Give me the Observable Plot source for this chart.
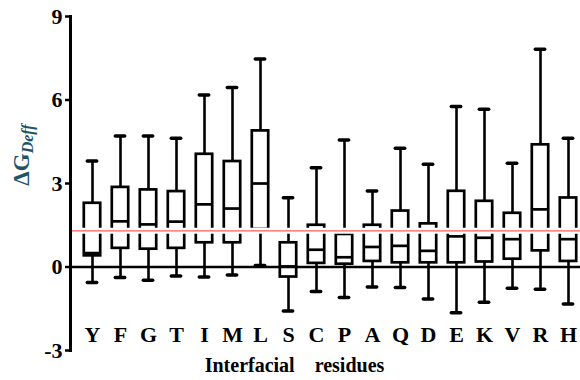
<!DOCTYPE html>
<html>
<head>
<meta charset="utf-8">
<script src="https://cdn.jsdelivr.net/npm/d3@7"></script>
<script src="https://cdn.jsdelivr.net/npm/@observablehq/plot@0.6"></script>
<style>
  html, body { margin: 0; padding: 0; background: white; overflow: hidden; }
</style>
</head>
<body>
<div id="chart"></div>
<script>
const residues    = ["Y","F","G","T","I","M","L","S","C","P","A","Q","D","E","K","V","R","H"];
const whiskerLow  = [-0.56,-0.38,-0.48,-0.32,-0.36,-0.29, 0.05,-1.58,-0.88,-1.10,-0.72,-0.74,-1.15,-1.64,-1.27,-0.76,-0.80,-1.33];
const quartile1   = [ 0.40, 0.67, 0.64, 0.67, 0.87, 0.87, 1.35,-0.36, 0.13, 0.10, 0.20, 0.15, 0.15, 0.15, 0.18, 0.28, 0.58, 0.20];
const medians     = [ 0.50, 1.64, 1.53, 1.63, 2.25, 2.10, 3.00, 0.02, 0.62, 0.35, 0.72, 0.76, 0.58, 1.10, 1.05, 1.00, 2.07, 1.00];
const quartile3   = [ 2.29, 2.86, 2.77, 2.71, 4.05, 3.79, 4.89, 0.87, 1.50, 1.17, 1.50, 2.01, 1.55, 2.72, 2.36, 1.93, 4.39, 2.48];
const whiskerHigh = [ 3.81, 4.71, 4.71, 4.63, 6.18, 6.45, 7.47, 2.49, 3.57, 4.56, 2.73, 4.27, 3.69, 5.77, 5.67, 3.73, 7.82, 4.63];
const yTicks = [-3, 0, 3, 6, 9];
const referenceLine = 1.3;
const xTitle = "Interfacial\u00a0\u00a0\u00a0\u00a0residues";

const rows = residues.map((r, i) => ({
  residue: r, low: whiskerLow[i], q1: quartile1[i], median: medians[i], q3: quartile3[i], high: whiskerHigh[i]
}));

const serif = "Liberation Serif";

const chart = Plot.plot({
  width: 580,
  height: 380,
  marginLeft: 70,
  marginRight: 0,
  marginTop: 16,
  marginBottom: 30,
  style: { background: "white", color: "black", fontFamily: serif },
  x: { type: "band", domain: residues, range: [72.7, 586.9], padding: 0 },
  y: { domain: [-3, 9] },
  marks: [
    Plot.ruleX(rows, { x: "residue", y1: "low", y2: "q1", stroke: "black", strokeWidth: 2.6 }),
    Plot.ruleX(rows, { x: "residue", y1: "q3", y2: "high", stroke: "black", strokeWidth: 2.6 }),
    Plot.barY(rows, { x: "residue", y1: "q1", y2: "q3", fill: "white", stroke: "black", strokeWidth: 2.7, insetLeft: 5.8, insetRight: 5.8 }),
    Plot.tickY(rows, { x: "residue", y: "median", stroke: "black", strokeWidth: 2.7, insetLeft: 5.8, insetRight: 5.8 }),
    Plot.tickY(rows, { x: "residue", y: "low", stroke: "black", strokeWidth: 3.5, strokeLinecap: "round", insetLeft: 9.3, insetRight: 9.3 }),
    Plot.tickY(rows, { x: "residue", y: "high", stroke: "black", strokeWidth: 3.5, strokeLinecap: "round", insetLeft: 9.3, insetRight: 9.3 }),
    Plot.ruleY([referenceLine], { stroke: "white", strokeWidth: 6 }),
    Plot.ruleY([referenceLine], { stroke: "#ff5a5a", strokeWidth: 1.2 }),
    Plot.ruleY([0], { stroke: "black", strokeWidth: 2.6 }),
    Plot.frame({ anchor: "left", stroke: "black", strokeWidth: 3 }),
    Plot.axisY({ ticks: yTicks, tickSize: 5, tickPadding: 3, tickFormat: d => String(d), fontFamily: serif, fontSize: 22, fontWeight: "bold", strokeWidth: 2.5, label: null }),
    Plot.axisX({ tickSize: 0, tickPadding: 0, dy: -24, fontFamily: serif, fontSize: 22, fontWeight: "bold", label: null }),
    Plot.text([xTitle], { text: d => d, frameAnchor: "bottom", dy: 21, dx: -31, fontFamily: serif, fontSize: 20, fontWeight: "bold", fill: "black" })
  ]
});

const yl = d3.select(chart).append("text")
  .attr("transform", "translate(29,155) rotate(-90)")
  .attr("text-anchor", "middle")
  .attr("fill", "#1f5468")
  .attr("font-family", serif)
  .attr("font-weight", "bold");
yl.append("tspan").attr("font-size", 23).text("\u0394G");
yl.append("tspan").attr("font-size", 16).attr("font-style", "italic").attr("dy", 4).text("Deff");

document.getElementById("chart").appendChild(chart);
</script>
</body>
</html>
